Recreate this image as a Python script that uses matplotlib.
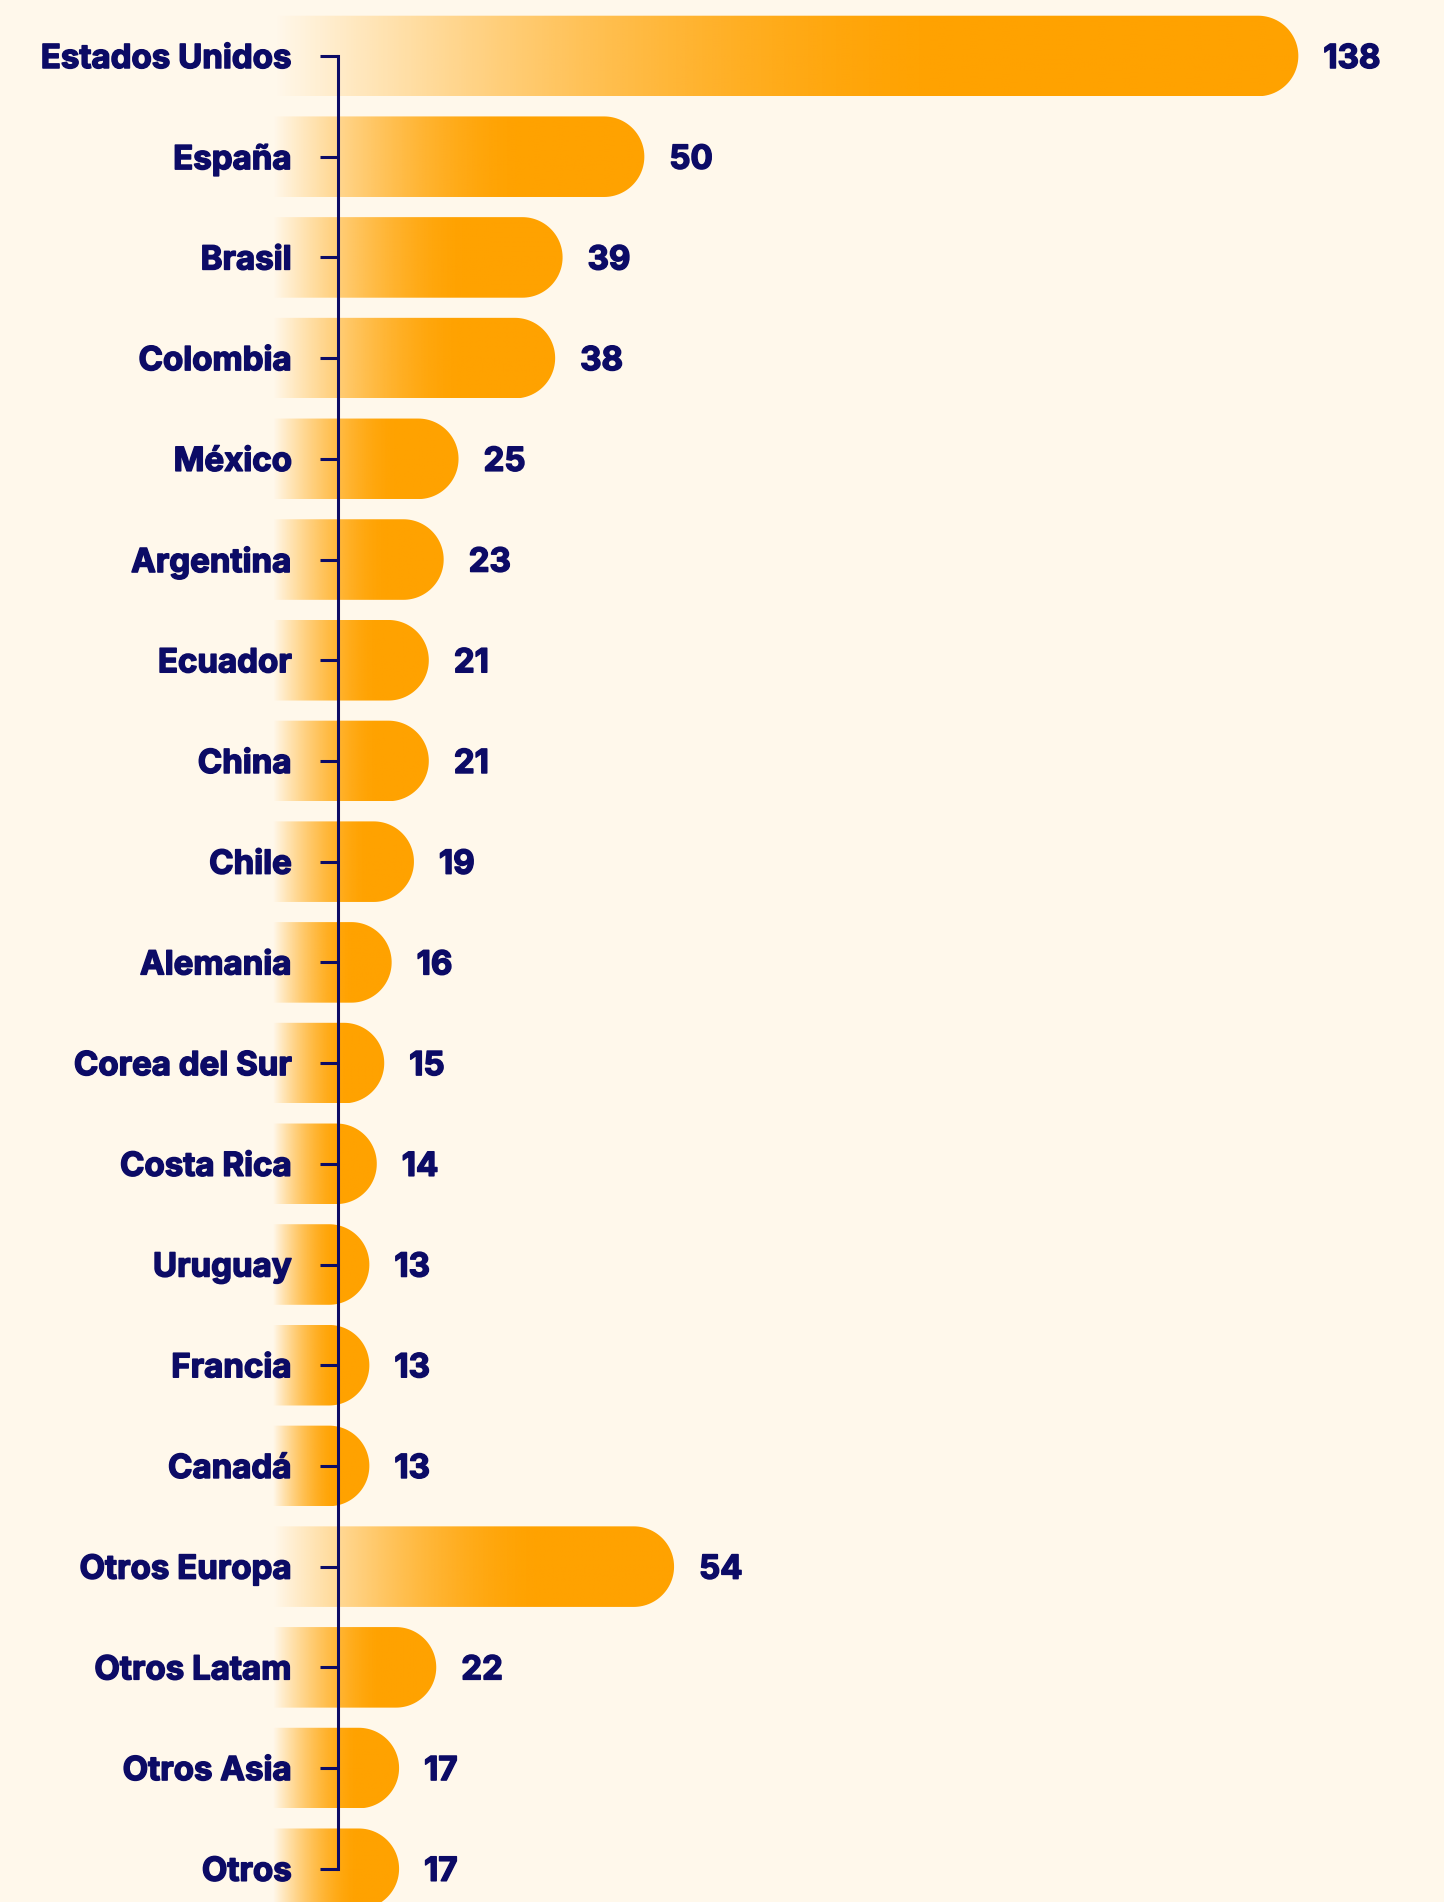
import numpy as np
import matplotlib
matplotlib.use("Agg")
import matplotlib.pyplot as plt
import matplotlib.patheffects as pe
from matplotlib.patches import Polygon

categories = ["Estados Unidos", "España", "Brasil", "Colombia", "México", "Argentina",
              "Ecuador", "China", "Chile", "Alemania", "Corea del Sur", "Costa Rica",
              "Uruguay", "Francia", "Canadá", "Otros Europa", "Otros Latam", "Otros Asia", "Otros"]
values = [138, 50, 39, 38, 25, 23, 21, 21, 19, 16, 15, 14, 13, 13, 13, 54, 22, 17, 17]

BG = "#fff8eb"
ORANGE = "#ffa200"
NAVY = "#0c0b66"
FONT = ["Inter", "DejaVu Sans"]
WEIGHT = "bold"
FS = 23.8
STROKE = [pe.withStroke(linewidth=1.1, foreground=NAVY)]

W, H, DPI = 1444, 1902, 100
fig = plt.figure(figsize=(W / DPI, H / DPI), dpi=DPI, facecolor=BG)
ax = fig.add_axes([0, 0, 1, 1], facecolor=BG)

xlim = (-36.7, 157.6)
ylim = (18.33, -0.556)
ax.set_xlim(*xlim)
ax.set_ylim(*ylim)

kx = W / (xlim[1] - xlim[0])          # px per x unit
ky = H / abs(ylim[0] - ylim[1])       # px per y unit
half_h = 0.4
rx = half_h * ky / kx

orange_rgb = np.array(matplotlib.colors.to_rgb(ORANGE))
for i, v in enumerate(values):
    t = np.linspace(-np.pi / 2, np.pi / 2, 60)
    cx = v - rx
    arc = np.column_stack([cx + rx * np.cos(t), i + half_h * np.sin(t)])
    pts = np.vstack([[0, i - half_h], arc, [0, i + half_h]])
    poly = Polygon(pts, closed=True, facecolor="none", edgecolor="none")
    ax.add_patch(poly)
    n = 256
    xs = np.linspace(0, 1, n)
    r = np.clip(xs / 0.65, 0, 1)
    alpha = 1 - (1 - r) ** 1.6
    img = np.zeros((1, n, 4))
    img[..., :3] = orange_rgb
    img[0, :, 3] = alpha
    im = ax.imshow(img, extent=[0, v, i + half_h, i - half_h], aspect="auto",
                   interpolation="bilinear", zorder=1)
    im.set_clip_path(poly)
    ax.text(v + 25 / kx, i, str(v), ha="left", va="center_baseline", color=NAVY,
            fontsize=FS, fontweight=WEIGHT, family=FONT, path_effects=STROKE)

ax.set_xlim(*xlim)
ax.set_ylim(*ylim)

axis_x = 8.75
for s in ["top", "right", "bottom"]:
    ax.spines[s].set_visible(False)
ax.spines["left"].set_position(("data", axis_x))
ax.spines["left"].set_bounds(0, len(categories) - 1)
ax.spines["left"].set_color(NAVY)
ax.spines["left"].set_linewidth(2.2)
ax.spines["left"].set_zorder(3)
ax.xaxis.set_visible(False)
ax.set_yticks(range(len(categories)))
ax.set_yticklabels(categories)
ax.tick_params(axis="y", length=18 * 72 / DPI, width=2.2, color=NAVY, pad=28 * 72 / DPI,
               labelcolor=NAVY, labelsize=FS)
for lab in ax.get_yticklabels():
    lab.set_fontweight(WEIGHT)
    lab.set_family(FONT)
    lab.set_verticalalignment("center_baseline")
    lab.set_path_effects(STROKE)

fig.savefig("out.png", dpi=DPI, facecolor=BG)
